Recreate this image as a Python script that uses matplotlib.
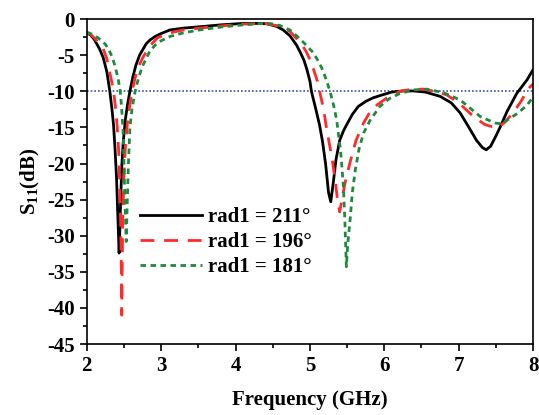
import matplotlib
matplotlib.use('Agg')
import matplotlib.pyplot as plt
from matplotlib.ticker import MultipleLocator

# rad1 = 211 deg
freq_211 = [2.0, 2.05, 2.1, 2.17, 2.22, 2.27, 2.31, 2.34, 2.36, 2.38, 2.40, 2.42, 2.435, 2.45,
            2.47, 2.49, 2.52, 2.55, 2.58, 2.62, 2.66, 2.71, 2.76, 2.8, 2.85, 2.92, 3.0, 3.12,
            3.3, 3.52, 3.8, 4.1, 4.3, 4.42, 4.55, 4.64, 4.73, 4.82, 4.87, 4.92, 4.96, 5.0,
            5.02, 5.08, 5.13, 5.17, 5.21, 5.25, 5.28, 5.31, 5.35, 5.4, 5.45, 5.49, 5.57, 5.65,
            5.75, 5.85, 5.94, 6.1, 6.25, 6.39, 6.55, 6.75, 6.9, 7.02, 7.12, 7.24, 7.32, 7.37,
            7.43, 7.5, 7.56, 7.65, 7.78, 7.92, 8.0]
s11_211 = [-1.9, -2.2, -2.8, -4.1, -5.3, -7.3, -10.0, -12.6, -14.7, -18.0, -22.0, -28.0, -32.4, -27.0,
           -20.5, -17.0, -13.8, -11.7, -10.0, -8.0, -6.4, -5.0, -4.1, -3.4, -2.9, -2.4, -2.0, -1.5,
           -1.25, -1.06, -0.8, -0.6, -0.6, -0.65, -1.0, -1.5, -2.3, -3.6, -4.6, -5.7, -7.0, -8.6,
           -10.0, -12.5, -14.7, -17.0, -20.0, -24.0, -25.3, -23.0, -19.5, -16.8, -15.5, -14.7, -13.2, -12.1,
           -11.4, -10.9, -10.6, -10.1, -9.95, -9.95, -10.1, -10.7, -11.6, -13.0, -14.7, -16.8, -17.8, -18.1,
           -17.6, -16.2, -14.9, -12.8, -10.3, -8.4, -7.0]

# rad1 = 196 deg
freq_196 = [2.0, 2.05, 2.1, 2.16, 2.22, 2.27, 2.3, 2.33, 2.36, 2.39, 2.41, 2.43, 2.44, 2.455,
            2.465, 2.47, 2.475, 2.485, 2.5, 2.52, 2.55, 2.58, 2.61, 2.65, 2.7, 2.76, 2.85, 2.95,
            3.12, 3.3, 3.52, 3.8, 4.1, 4.4, 4.6, 4.73, 4.82, 4.9, 4.95, 5.0, 5.05, 5.1,
            5.13, 5.18, 5.22, 5.26, 5.3, 5.34, 5.37, 5.40, 5.43, 5.47, 5.54, 5.62, 5.72, 5.8,
            5.9, 6.05, 6.21, 6.35, 6.52, 6.68, 6.84, 7.0, 7.2, 7.35, 7.51, 7.62, 7.73, 7.85,
            7.92, 8.0]
s11_196 = [-1.9, -2.1, -2.6, -3.3, -4.1, -5.5, -7.0, -8.4, -10.0, -12.6, -15.0, -18.5, -22.0, -28.0,
           -35.0, -41.0, -35.0, -27.0, -21.5, -17.5, -14.0, -11.8, -10.0, -8.1, -6.5, -5.2, -3.7, -2.6,
           -1.9, -1.5, -1.25, -0.95, -0.7, -0.6, -1.0, -1.7, -2.7, -3.7, -4.5, -5.6, -7.0, -8.6,
           -10.0, -12.3, -14.9, -17.2, -19.5, -22.3, -25.0, -26.7, -25.0, -22.8, -19.8, -16.8, -14.4, -13.0,
           -11.9, -10.8, -10.0, -9.75, -9.7, -10.0, -10.5, -11.6, -13.5, -14.6, -15.1, -14.3, -13.0, -11.2,
           -9.8, -9.0]

# rad1 = 181 deg
freq_181 = [2.0, 2.05, 2.1, 2.15, 2.2, 2.25, 2.29, 2.34, 2.38, 2.42, 2.45, 2.47, 2.49, 2.51,
            2.53, 2.545, 2.56, 2.58, 2.61, 2.65, 2.7, 2.75, 2.85, 2.92, 3.0, 3.12, 3.3, 3.52,
            3.8, 4.1, 4.3, 4.46, 4.6, 4.73, 4.83, 4.93, 5.04, 5.1, 5.16, 5.22, 5.27, 5.32,
            5.36, 5.39, 5.41, 5.43, 5.45, 5.47, 5.49, 5.51, 5.54, 5.57, 5.61, 5.66, 5.72, 5.81,
            5.94, 6.07, 6.21, 6.4, 6.57, 6.8, 7.02, 7.15, 7.29, 7.49, 7.58, 7.65, 7.8, 7.92,
            8.0]
s11_181 = [-1.8, -2.0, -2.3, -2.6, -3.0, -3.5, -4.1, -5.2, -6.5, -8.2, -10.0, -12.5, -16.0, -24.0,
           -30.8, -25.0, -20.0, -15.0, -12.3, -10.0, -8.0, -6.5, -4.4, -3.6, -3.0, -2.4, -1.9, -1.5,
           -1.1, -0.8, -0.65, -0.6, -0.9, -1.5, -2.4, -3.4, -4.6, -5.6, -6.8, -8.4, -10.0, -12.0,
           -14.0, -16.5, -18.0, -20.5, -23.2, -28.0, -34.3, -31.0, -27.8, -24.0, -20.9, -18.0, -15.8, -14.0,
           -12.1, -11.0, -10.3, -9.8, -9.7, -10.2, -11.2, -12.3, -13.5, -14.4, -14.5, -14.0, -13.0, -11.9,
           -10.8]

ref_level = -10
labels = ['rad1 = 211°', 'rad1 = 196°', 'rad1 = 181°']

plt.rcParams['font.family'] = ['Liberation Serif', 'DejaVu Serif']
plt.rcParams['font.weight'] = 'bold'
plt.rcParams['axes.unicode_minus'] = False
plt.rcParams['mathtext.fontset'] = 'custom'
plt.rcParams['mathtext.rm'] = 'Liberation Serif:bold'
plt.rcParams['mathtext.it'] = 'Liberation Serif:bold'
plt.rcParams['mathtext.bf'] = 'Liberation Serif:bold'

fig = plt.figure(figsize=(5.39, 4.15), dpi=100)
ax = fig.add_axes([0.161, 0.171, 0.828, 0.783])

ax.axhline(ref_level, color='#3a4fa0', lw=1.2, ls=(0, (1, 1.2)), zorder=1)
ax.plot(freq_211, s11_211, color='black', lw=2.0, label=labels[0])
ax.plot(freq_196, s11_196, color='#ff2a2a', lw=2.0, ls=(0, (5, 3.5)), label=labels[1])
ax.plot(freq_181, s11_181, color='#1e8a3c', lw=2.0, ls=(0, (2, 1.6)), label=labels[2])

ax.set_xlim(2, 8)
ax.set_ylim(-45, 0)
ax.xaxis.set_major_locator(MultipleLocator(1))
ax.xaxis.set_minor_locator(MultipleLocator(0.5))
ax.yaxis.set_major_locator(MultipleLocator(5))
ax.yaxis.set_minor_locator(MultipleLocator(2.5))
ax.tick_params(which='both', direction='out', top=False, right=False, labelsize=15)
ax.tick_params(which='major', length=5, width=1.2)
ax.tick_params(which='minor', length=3, width=1.2)
for lab in ax.get_xticklabels() + ax.get_yticklabels():
    lab.set_fontweight('bold')
for sp in ax.spines.values():
    sp.set_linewidth(1.2)

ax.set_xlabel('Frequency (GHz)', fontsize=15, fontweight='bold', labelpad=10)
ax.set_ylabel('S$_{11}$(dB)', fontsize=15, fontweight='bold', labelpad=4)

ax.legend(loc='lower left', bbox_to_anchor=(0.1, 0.18), frameon=False,
          prop={'size': 15, 'weight': 'bold'}, handlelength=3.0,
          handletextpad=0.3, labelspacing=0.25, borderaxespad=0)

fig.savefig('out.png', dpi=100)
